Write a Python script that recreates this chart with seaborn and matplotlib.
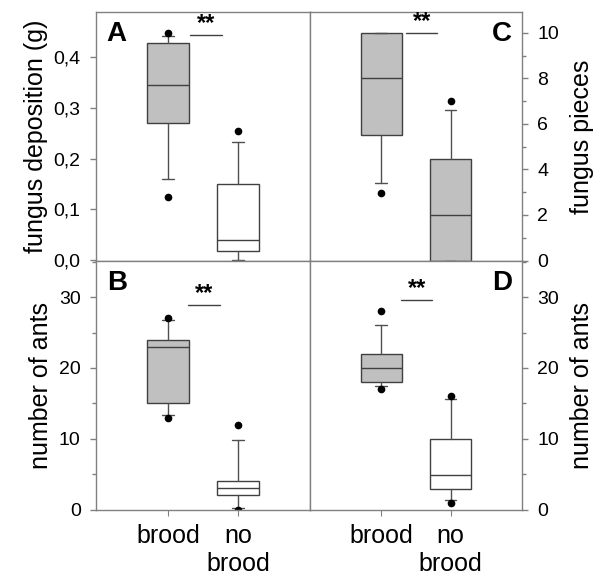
import seaborn as sns
import matplotlib.pyplot as plt
from matplotlib.ticker import MultipleLocator, FuncFormatter

# categories on the x axis
groups = ['brood', 'no\nbrood']

# box statistics: (whisker low, q1, median, q3, whisker high)
fungus_g = [(0.160, 0.270, 0.345, 0.428, 0.441), (0.0, 0.017, 0.039, 0.149, 0.233)]
fungus_g_out = [[0.125, 0.447], [0.255]]

fungus_pieces = [(3.4, 5.5, 8.0, 10.0, 10.0), (0.0, 0.0, 2.0, 4.45, 6.6)]
fungus_pieces_out = [[2.95], [7.0]]

ants_b = [(13.35, 15.0, 23.0, 24.0, 26.7), (0.25, 2.0, 3.0, 4.0, 9.9)]
ants_b_out = [[13.0, 27.0], [0.0, 12.0]]

ants_d = [(17.4, 18.0, 20.0, 22.0, 26.0), (1.4, 2.9, 4.95, 10.0, 15.6)]
ants_d_out = [[17.0, 28.0], [1.0, 16.0]]

# significance bars (x from, x to, y)
sig_a = (0.32, 0.77, 0.443)
sig_c = (0.36, 0.81, 10.0)
sig_b = (0.29, 0.74, 28.9)
sig_d = (0.29, 0.73, 29.6)

GREY = '#c0c0c0'
EDGE = '#404040'
SPINE = '#808080'

sns.set_style('white')
plt.rcParams['font.family'] = ['Liberation Sans', 'DejaVu Sans']
plt.rcParams['text.color'] = 'black'
plt.rcParams['axes.labelcolor'] = 'black'


def make_stats(boxes, outliers):
    stats = []
    for (wlo, q1, med, q3, whi), fl in zip(boxes, outliers):
        stats.append(dict(whislo=wlo, q1=q1, med=med, q3=q3, whishi=whi, fliers=fl))
    return stats


def draw_panel(ax, boxes, outliers, fills, sig, letter, side, ylabel, ylim, major, minor, fmt=None, xlabels=False):
    stats = make_stats(boxes, outliers)
    bp = ax.bxp(stats, positions=[0, 1], widths=0.6, capwidths=0.17, patch_artist=True,
                boxprops=dict(edgecolor=EDGE, linewidth=1.0),
                medianprops=dict(color=EDGE, linewidth=1.0),
                whiskerprops=dict(color='#505050', linewidth=1.0),
                capprops=dict(color='#505050', linewidth=1.0),
                flierprops=dict(marker='o', markerfacecolor='black', markeredgecolor='black',
                                markersize=4.5, linestyle='none'))
    for patch, c in zip(bp['boxes'], fills):
        patch.set_facecolor(c)

    ax.set_xlim(-1.03, 2.03)
    ax.set_ylim(*ylim)
    ax.yaxis.set_major_locator(MultipleLocator(major))
    if minor:
        ax.yaxis.set_minor_locator(MultipleLocator(minor))
    if fmt:
        ax.yaxis.set_major_formatter(FuncFormatter(fmt))

    # significance bar with stars
    x0, x1, y = sig
    ax.plot([x0, x1], [y, y], color='#404040', linewidth=1.0)
    ax.text((x0 + x1) / 2, y, '**', ha='center', va='bottom', fontsize=17, fontweight='bold')

    if side == 'left':
        ax.text(0.05, 0.962, letter, transform=ax.transAxes, ha='left', va='top',
                fontsize=20, fontweight='bold')
        ax.set_ylabel(ylabel, fontsize=18, labelpad=4)
    else:
        ax.text(0.953, 0.962, letter, transform=ax.transAxes, ha='right', va='top',
                fontsize=20, fontweight='bold')
        ax.yaxis.tick_right()
        ax.yaxis.set_label_position('right')
        ax.set_ylabel(ylabel, fontsize=18, labelpad=8)

    ax.tick_params(axis='y', which='both', direction='out', color=SPINE, labelcolor='black',
                   labelsize=14, pad=7, left=(side == 'left'), right=(side == 'right'))
    ax.tick_params(axis='y', which='major', length=4, width=1)
    ax.tick_params(axis='y', which='minor', length=3, width=1)

    if xlabels:
        ax.set_xticks([0, 1])
        ax.set_xticklabels(groups, fontsize=18, linespacing=1.2)
        ax.tick_params(axis='x', direction='out', length=4, color=SPINE, labelcolor='black',
                       pad=6, bottom=True)
    else:
        ax.set_xticks([])

    for s in ax.spines.values():
        s.set_color(SPINE)
        s.set_linewidth(1.0)


fig = plt.figure(figsize=(6.02, 5.76), dpi=100)
ax_a = fig.add_axes([0.1595, 0.5469, 0.3555, 0.4322])
ax_c = fig.add_axes([0.515, 0.5469, 0.352, 0.4322])
ax_b = fig.add_axes([0.1595, 0.1146, 0.3555, 0.4323])
ax_d = fig.add_axes([0.515, 0.1146, 0.352, 0.4323])

comma = lambda v, pos: f'{v:.1f}'.replace('.', ',')

draw_panel(ax_a, fungus_g, fungus_g_out, [GREY, 'white'], sig_a, 'A', 'left',
           'fungus deposition (g)', (-0.002, 0.4887), 0.1, None, fmt=comma)
draw_panel(ax_c, fungus_pieces, fungus_pieces_out, [GREY, GREY], sig_c, 'C', 'right',
           'fungus pieces', (-0.02, 10.91), 2, 1)
draw_panel(ax_b, ants_b, ants_b_out, [GREY, 'white'], sig_b, 'B', 'left',
           'number of ants', (-0.05, 35.1), 10, 5, xlabels=True)
draw_panel(ax_d, ants_d, ants_d_out, [GREY, 'white'], sig_d, 'D', 'right',
           'number of ants', (-0.05, 35.1), 10, 5, xlabels=True)

plt.savefig('out.png', dpi=100)
